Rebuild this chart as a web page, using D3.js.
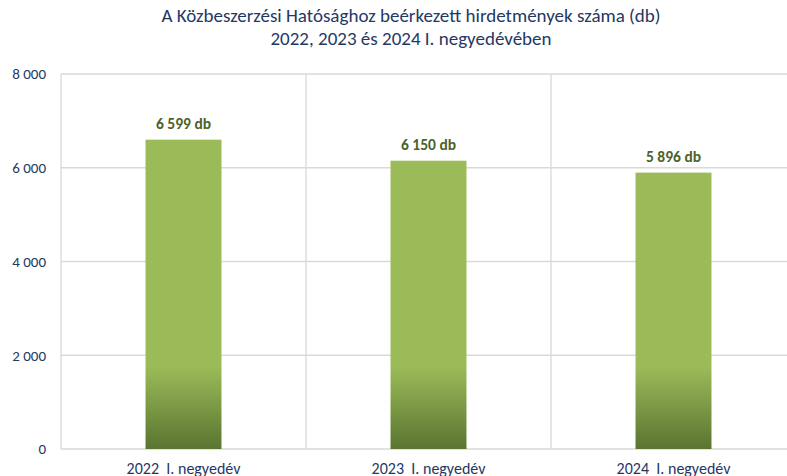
<!DOCTYPE html>
<html>
<head>
<meta charset="utf-8">
<script src="https://cdn.jsdelivr.net/npm/d3@7"></script>
<style>
  body { margin: 0; background: #fff; }
  text { font-family: Calibri, Carlito, Lato, sans-serif; }
</style>
</head>
<body>
<div id="chart"></div>
<script>
// Data
var categories = ["2022  I. negyedév", "2023  I. negyedév", "2024  I. negyedév"];
var values = [6599, 6150, 5896];
var yTicks = [0, 2000, 4000, 6000, 8000];
var titleLines = ["A Közbeszerzési Hatósághoz beérkezett hirdetmények száma (db)",
                  "2022, 2023 és 2024 I. negyedévében"];

var W = 787, H = 476;
var margin = {top: 74, right: -9, bottom: 27, left: 61},
    width = W - margin.left - margin.right,
    height = H - margin.top - margin.bottom;

var fmt = function(v) { return d3.format(",")(v).replace(/,/g, " "); };

var x = d3.scaleBand()
          .domain(categories)
          .range([0, width])
          .padding(0);

var y = d3.scaleLinear()
          .domain([0, 8000])
          .range([height, 0]);

var svg = d3.select("#chart").append("svg")
    .attr("width", W)
    .attr("height", H);

// gradient: flat green on top, darker toward the base
var defs = svg.append("defs");
var grad = defs.append("linearGradient")
    .attr("id", "barGrad")
    .attr("gradientUnits", "userSpaceOnUse")
    .attr("x1", 0).attr("x2", 0)
    .attr("y1", y(1750)).attr("y2", y(0));
grad.append("stop").attr("offset", "0%").attr("stop-color", "#9bbb59");
grad.append("stop").attr("offset", "100%").attr("stop-color", "#5a7530");

// title
svg.append("g").selectAll("text")
    .data(titleLines)
  .enter().append("text")
    .attr("x", 411)
    .attr("y", function(d, i) { return 22 + i * 23; })
    .attr("text-anchor", "middle")
    .style("font-size", "19px")
    .style("fill", "#1f3864")
    .text(function(d) { return d; });

var g = svg.append("g")
    .attr("transform", "translate(" + margin.left + "," + margin.top + ")");

// horizontal grid
g.selectAll(".hgrid")
    .data(yTicks)
  .enter().append("line")
    .attr("x1", 0).attr("x2", width)
    .attr("y1", function(d) { return y(d); })
    .attr("y2", function(d) { return y(d); })
    .attr("stroke", "#d9d9d9")
    .attr("stroke-width", 1.3);

// vertical category separators
g.selectAll(".vgrid")
    .data(categories)
  .enter().append("line")
    .attr("x1", function(d) { return x(d); })
    .attr("x2", function(d) { return x(d); })
    .attr("y1", 0).attr("y2", height)
    .attr("stroke", "#d9d9d9")
    .attr("stroke-width", 1.3);

// bars
var barW = x.bandwidth() * 0.31;
g.selectAll(".bar")
    .data(values)
  .enter().append("rect")
    .attr("x", function(d, i) { return x(categories[i]) + x.bandwidth() / 2 - barW / 2; })
    .attr("width", barW)
    .attr("y", function(d) { return y(d); })
    .attr("height", function(d) { return height - y(d); })
    .attr("fill", "url(#barGrad)");

// value labels
g.selectAll(".lbl")
    .data(values)
  .enter().append("text")
    .attr("x", function(d, i) { return x(categories[i]) + x.bandwidth() / 2; })
    .attr("y", function(d) { return y(d) - 11; })
    .attr("text-anchor", "middle")
    .style("font-size", "15.5px")
    .style("font-weight", "bold")
    .style("fill", "#4f6228")
    .text(function(d) { return fmt(d) + " db"; });

// y axis labels
g.append("g")
    .call(d3.axisLeft(y).tickValues(yTicks).tickSize(0).tickPadding(15).tickFormat(fmt))
    .call(function(a) { a.select(".domain").remove(); })
    .selectAll("text")
    .style("font-family", "Calibri, Carlito, Lato, sans-serif")
    .style("font-size", "15px")
    .style("fill", "#1f3864");

// x axis labels
g.append("g")
    .attr("transform", "translate(0," + height + ")")
    .call(d3.axisBottom(x).tickSize(0).tickPadding(14))
    .call(function(a) { a.select(".domain").remove(); })
    .selectAll("text")
    .style("font-family", "Calibri, Carlito, Lato, sans-serif")
    .style("font-size", "16px")
    .style("fill", "#1f3864")
    .style("white-space", "pre");
</script>
</body>
</html>
